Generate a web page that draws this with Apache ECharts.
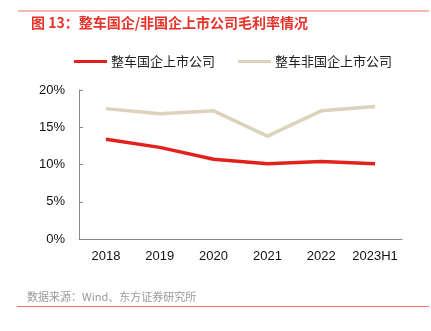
<!DOCTYPE html>
<html><head><meta charset="utf-8">
<script src="https://cdn.jsdelivr.net/npm/echarts@6/dist/echarts.min.js"></script>
<style>html,body{margin:0;padding:0;background:#fff}#c{width:431px;height:331px}</style>
</head><body><div id="c"></div>
<script>
const categories = ['2018','2019','2020','2021','2022','2023H1'];
const stateOwned = [13.4, 12.3, 10.7, 10.1, 10.4, 10.1];
const nonStateOwned = [17.5, 16.8, 17.2, 13.8, 17.2, 17.8];
const seriesNames = ['整车国企上市公司','整车非国企上市公司'];
const yTicks = [0, 5, 10, 15, 20];

const chart = echarts.init(document.getElementById('c'));
const font = '"Liberation Sans", "Noto Sans CJK SC", sans-serif';
chart.setOption({
  animation: false,
  title: {
    text: '图 13：整车国企/非国企上市公司毛利率情况',
    left: 26, top: 11,
    textStyle: {color: '#e8332a', fontSize: 14, fontWeight: 'bold', fontFamily: '"Noto Sans CJK SC", sans-serif'}
  },
  legend: {
    top: 50, left: 69,
    itemWidth: 33, itemHeight: 3, itemGap: 23,
    icon: 'rect',
    textStyle: {fontSize: 13, color: '#222', fontFamily: '"Noto Sans CJK SC", sans-serif', padding: [0,0,0,-1]},
    data: seriesNames
  },
  grid: {left: 79, right: 29, top: 90, bottom: 92},
  xAxis: {
    type: 'category', data: categories, boundaryGap: true,
    axisLine: {lineStyle: {color: '#888', width: 1}},
    axisTick: {inside: true, length: 5, lineStyle: {color: '#888'}},
    axisLabel: {color: '#111', fontSize: 13, margin: 11, fontFamily: font, interval: 0}
  },
  yAxis: {
    type: 'value', min: yTicks[0], max: yTicks[yTicks.length-1], interval: 5,
    axisLine: {show: true, lineStyle: {color: '#888', width: 1}},
    axisTick: {show: true, inside: true, length: 4, lineStyle: {color: '#888'}},
    splitLine: {show: false},
    axisLabel: {color: '#111', fontSize: 13, margin: 14, fontFamily: font, formatter: v => v + '%'}
  },
  series: [
    {name: seriesNames[0], type: 'line', data: stateOwned, symbol: 'none',
     lineStyle: {color: '#e3211c', width: 3.5}, itemStyle: {color: '#e3211c'}},
    {name: seriesNames[1], type: 'line', data: nonStateOwned, symbol: 'none',
     lineStyle: {color: '#ddd2bb', width: 3.5}, itemStyle: {color: '#ddd2bb'}}
  ],
  graphic: [
    {type: 'line', shape: {x1: 18, y1: 11, x2: 429, y2: 11}, style: {stroke: '#f07068', lineWidth: 1}},
    {type: 'line', shape: {x1: 17, y1: 306.5, x2: 429, y2: 306.5}, style: {stroke: '#f07068', lineWidth: 1}},
    {type: 'text', left: 27, top: 291, style: {text: '数据来源：Wind、东方证券研究所', fill: '#999', fontSize: 11, fontFamily: '"Noto Sans CJK SC", sans-serif'}}
  ]
});
</script></body></html>
